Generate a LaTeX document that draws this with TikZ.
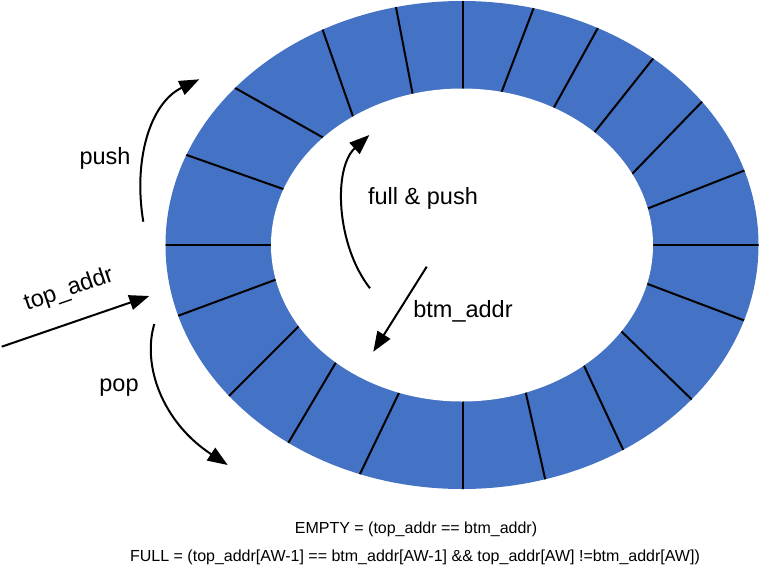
\documentclass[tikz,border=0pt]{standalone}
\usepackage{fontspec}
\setmainfont{Liberation Sans}
\usetikzlibrary{arrows.meta,calc}
\definecolor{ringblue}{HTML}{4472C4}
\begin{document}
\begin{tikzpicture}[x=1pt,y=-1pt,
  arr/.style={line width=2pt,-{Triangle[length=20pt,width=15pt]}},
  seg/.style={line width=2pt},
  lbl/.style={inner sep=0pt,font=\fontsize{23.5}{28}\selectfont},
  note/.style={inner sep=0pt,font=\fontsize{16}{19}\selectfont}]
\useasboundingbox (0,0) rectangle (763,574);
% ring
\fill[ringblue] (462,245) ellipse [x radius=296.5, y radius=244];
\begin{scope}
\clip (462,245) ellipse [x radius=296.5, y radius=244];
\foreach \ax/\ay/\bx/\by in {
  165/245/272/245,
  186.7/155/284/189.3,
  235.7/88.3/323.3/137.7,
  322.7/30/353.3/117.3,
  396/7.3/412.7/94.3,
  462.7/1/462.7/88.3,
  533.3/9/501.7/91.7,
  597.7/28.3/554/107.3,
  653.3/58.3/595/131.7,
  702.7/101/632.7/173.3,
  745.7/170/650.7/207.3,
  758/245/654/245,
  745.7/321/647.7/284,
  692.3/400/621.7/331.7,
  623.3/450/584/365.7,
  545/478.3/525.7/392.3,
  462.7/489/462.7/401,
  360.3/473.3/399.3/392.3,
  289/441.7/336/362.3,
  229.3/395.7/299.3/325.7,
  178.3/315.7/276.7/279.3}
  \draw[seg] ($(\ax,\ay)!-6pt!(\bx,\by)$) -- ($(\bx,\by)!-6pt!(\ax,\ay)$);
\end{scope}
\fill[white] (462,245) ellipse [x radius=191, y radius=156.5];
% arrow end points
\coordinate (pushS) at (143.3,221.7);
\coordinate (pushE) at (199.3,79.3);
\coordinate (topS) at (1.7,346.7);
\coordinate (topE) at (149.3,296);
\coordinate (popS) at (154.3,324);
\coordinate (popE) at (227.7,465);
\coordinate (fpS) at (370,288.3);
\coordinate (fpE) at (369.3,135);
\coordinate (btmS) at (426.7,266.7);
\coordinate (btmE) at (373.3,351.7);
% arrows
\draw[arr] (pushS) .. controls (133,160) and (150,103) .. (pushE);
\draw[arr] (topS) -- (topE);
\draw[arr] (popS) .. controls (142,365) and (162,422) .. (popE);
\draw[arr] (fpS) .. controls (336,245) and (333,168) .. (fpE);
\draw[arr] (btmS) -- (btmE);
% labels
\node[lbl] (lpush) at (105,158) {push};
\node[lbl,rotate=19] (ltop) at (69,290) {top\_addr};
\node[lbl] (lpop) at (119,388) {pop};
\node[lbl] (lfp) at (423,198) {full \& push};
\node[lbl] (lbtm) at (463,311) {btm\_addr};
\node[note] (lempty) at (416,529) {EMPTY = (top\_addr == btm\_addr)};
\node[note] (lfull) at (415,557) {FULL = (top\_addr[AW-1] == btm\_addr[AW-1] \&\& top\_addr[AW] !=btm\_addr[AW])};
\end{tikzpicture}
\end{document}
